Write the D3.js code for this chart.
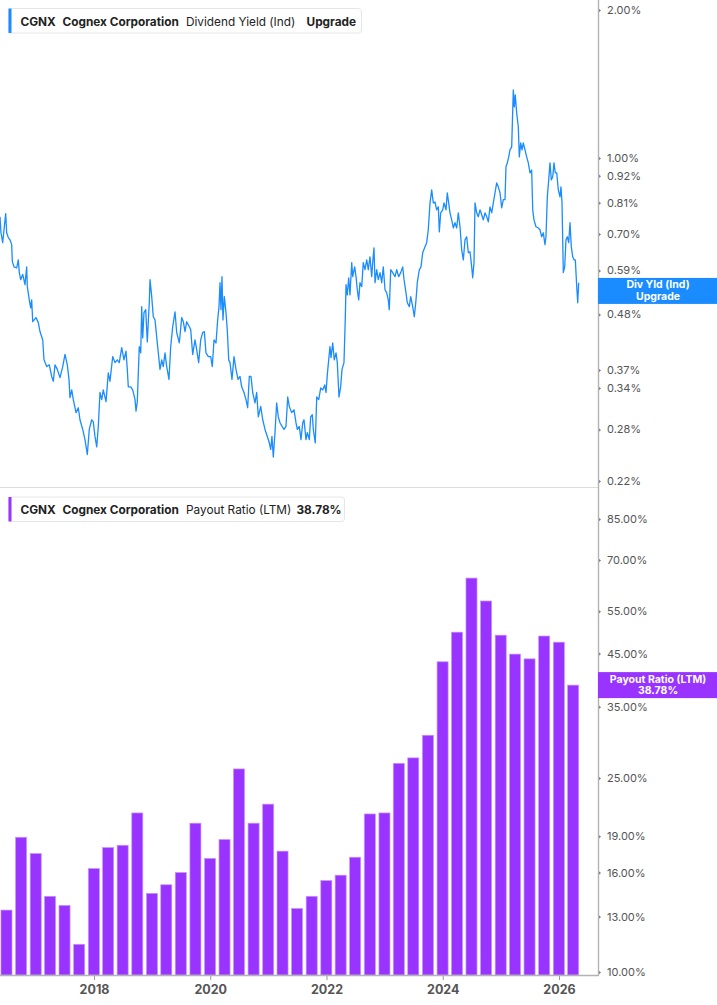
<!DOCTYPE html>
<html><head><meta charset="utf-8">
<script src="https://cdn.jsdelivr.net/npm/d3@7"></script>
<style>
html,body{margin:0;padding:0;background:#fff;}
svg{display:block;font-family:Inter,"Open Sans","Noto Sans",sans-serif;}
</style></head><body>
<svg id="chart" width="717" height="1005"></svg>
<script>
// ---------- DATA ----------
const ticker = "CGNX";
const company = "Cognex Corporation";
const dyName = "Dividend Yield (Ind)";
const prName = "Payout Ratio (LTM)";
// Dividend yield (%), [decimal year, value]
const divYieldPoints = [
[2016.383,0.759],[2016.400,0.704],[2016.429,0.672],[2016.452,0.714],[2016.481,0.770],[2016.498,0.704],[2016.526,0.688],[2016.555,0.681],[2016.584,0.666],[2016.595,0.615],
[2016.624,0.600],[2016.670,0.597],[2016.698,0.620],[2016.715,0.584],[2016.739,0.565],[2016.774,0.579],[2016.813,0.552],[2016.842,0.600],[2016.853,0.547],[2016.887,0.514],
[2016.911,0.495],[2016.928,0.514],[2016.946,0.464],[2017.002,0.473],[2017.042,0.462],[2017.071,0.443],[2017.118,0.426],[2017.140,0.388],[2017.186,0.376],[2017.231,0.379],
[2017.272,0.359],[2017.300,0.351],[2017.329,0.379],[2017.369,0.371],[2017.415,0.357],[2017.462,0.376],[2017.501,0.398],[2017.541,0.379],[2017.570,0.354],[2017.587,0.325],
[2017.617,0.337],[2017.644,0.322],[2017.691,0.303],[2017.730,0.310],[2017.759,0.293],[2017.806,0.280],[2017.845,0.267],[2017.885,0.249],[2017.919,0.280],[2017.961,0.293],
[2017.988,0.290],[2018.017,0.271],[2018.047,0.258],[2018.074,0.284],[2018.103,0.333],[2018.133,0.322],[2018.160,0.337],[2018.207,0.319],[2018.246,0.365],[2018.275,0.351],
[2018.322,0.394],[2018.361,0.383],[2018.401,0.388],[2018.435,0.383],[2018.477,0.411],[2018.516,0.388],[2018.551,0.404],[2018.573,0.371],[2018.590,0.342],[2018.632,0.342],
[2018.666,0.337],[2018.706,0.322],[2018.723,0.305],[2018.745,0.319],[2018.779,0.413],[2018.804,0.401],[2018.821,0.498],[2018.838,0.430],[2018.860,0.484],[2018.890,0.491],
[2018.917,0.422],[2018.952,0.510],[2018.964,0.565],[2018.993,0.522],[2019.020,0.475],[2019.050,0.468],[2019.089,0.420],[2019.136,0.371],[2019.165,0.388],[2019.192,0.376],
[2019.222,0.401],[2019.251,0.376],[2019.290,0.354],[2019.320,0.413],[2019.354,0.453],[2019.394,0.486],[2019.423,0.441],[2019.468,0.420],[2019.509,0.473],[2019.537,0.464],
[2019.566,0.443],[2019.595,0.464],[2019.640,0.453],[2019.664,0.447],[2019.698,0.398],[2019.738,0.426],[2019.767,0.407],[2019.801,0.383],[2019.836,0.426],[2019.870,0.441],
[2019.898,0.443],[2019.927,0.401],[2019.967,0.394],[2020.008,0.394],[2020.035,0.376],[2020.065,0.426],[2020.099,0.420],[2020.128,0.468],[2020.151,0.498],[2020.168,0.557],
[2020.185,0.491],[2020.202,0.573],[2020.219,0.468],[2020.242,0.522],[2020.271,0.484],[2020.293,0.447],[2020.318,0.388],[2020.340,0.383],[2020.374,0.354],[2020.409,0.394],
[2020.443,0.371],[2020.478,0.354],[2020.512,0.359],[2020.541,0.342],[2020.581,0.333],[2020.615,0.322],[2020.644,0.310],[2020.672,0.359],[2020.701,0.359],[2020.730,0.333],
[2020.770,0.317],[2020.799,0.333],[2020.827,0.297],[2020.868,0.312],[2020.903,0.293],[2020.942,0.280],[2020.982,0.271],[2021.016,0.263],[2021.040,0.255],[2021.062,0.271],
[2021.085,0.246],[2021.114,0.276],[2021.143,0.317],[2021.171,0.297],[2021.200,0.289],[2021.235,0.284],[2021.269,0.280],[2021.303,0.284],[2021.333,0.326],[2021.360,0.312],
[2021.401,0.303],[2021.441,0.307],[2021.475,0.289],[2021.498,0.280],[2021.532,0.284],[2021.561,0.267],[2021.591,0.289],[2021.613,0.293],[2021.647,0.267],[2021.670,0.276],
[2021.704,0.267],[2021.728,0.297],[2021.756,0.300],[2021.773,0.280],[2021.807,0.263],[2021.832,0.326],[2021.866,0.322],[2021.900,0.340],[2021.935,0.337],[2021.969,0.345],
[2021.992,0.333],[2022.014,0.362],[2022.038,0.388],[2022.060,0.413],[2022.078,0.392],[2022.107,0.420],[2022.134,0.388],[2022.164,0.401],[2022.186,0.383],[2022.215,0.326],
[2022.244,0.342],[2022.267,0.371],[2022.301,0.383],[2022.324,0.475],[2022.336,0.552],[2022.358,0.526],[2022.382,0.570],[2022.404,0.526],[2022.434,0.612],[2022.451,0.573],
[2022.485,0.600],[2022.508,0.573],[2022.530,0.539],[2022.554,0.514],[2022.576,0.557],[2022.606,0.547],[2022.633,0.612],[2022.662,0.592],[2022.692,0.620],[2022.719,0.592],
[2022.748,0.629],[2022.778,0.573],[2022.795,0.612],[2022.817,0.656],[2022.835,0.557],[2022.864,0.592],[2022.891,0.565],[2022.921,0.584],[2022.950,0.557],[2022.977,0.600],
[2023.007,0.539],[2023.036,0.531],[2023.063,0.514],[2023.080,0.491],[2023.105,0.592],[2023.139,0.584],[2023.179,0.573],[2023.208,0.592],[2023.242,0.573],[2023.277,0.584],
[2023.311,0.600],[2023.334,0.565],[2023.368,0.531],[2023.390,0.507],[2023.425,0.498],[2023.449,0.522],[2023.483,0.498],[2023.511,0.475],[2023.540,0.514],[2023.562,0.557],
[2023.597,0.592],[2023.626,0.600],[2023.655,0.641],[2023.695,0.659],[2023.724,0.672],[2023.751,0.714],[2023.781,0.810],[2023.810,0.861],[2023.838,0.810],[2023.867,0.813],
[2023.896,0.784],[2023.924,0.795],[2023.941,0.707],[2023.965,0.773],[2023.999,0.784],[2024.022,0.810],[2024.056,0.784],[2024.078,0.849],[2024.102,0.810],[2024.125,0.773],
[2024.154,0.748],[2024.182,0.720],[2024.211,0.738],[2024.240,0.720],[2024.268,0.773],[2024.297,0.724],[2024.326,0.650],[2024.354,0.620],[2024.383,0.681],[2024.412,0.691],
[2024.440,0.641],[2024.469,0.644],[2024.498,0.600],[2024.515,0.570],[2024.538,0.612],[2024.555,0.810],[2024.584,0.773],[2024.612,0.759],[2024.641,0.784],[2024.670,0.766],
[2024.698,0.748],[2024.727,0.773],[2024.756,0.759],[2024.784,0.741],[2024.813,0.795],[2024.842,0.773],[2024.870,0.810],[2024.899,0.849],[2024.928,0.889],[2024.956,0.873],
[2024.985,0.849],[2025.014,0.791],[2025.042,0.822],[2025.071,0.822],[2025.088,0.959],[2025.111,0.977],[2025.135,1.005],[2025.157,1.038],[2025.186,1.053],[2025.214,1.375],
[2025.231,1.270],[2025.248,1.343],[2025.272,1.235],[2025.300,1.156],[2025.317,1.005],[2025.341,1.073],[2025.364,1.038],[2025.386,1.073],[2025.415,1.038],[2025.444,1.005],
[2025.472,0.977],[2025.501,0.932],[2025.530,0.945],[2025.548,0.784],[2025.570,0.748],[2025.604,0.724],[2025.644,0.720],[2025.673,0.714],[2025.702,0.691],[2025.730,0.704],
[2025.759,0.666],[2025.776,0.691],[2025.799,0.833],[2025.823,0.902],[2025.845,0.977],[2025.868,0.902],[2025.892,0.915],[2025.914,0.977],[2025.936,0.932],[2025.961,0.932],
[2025.988,0.861],[2026.017,0.833],[2026.034,0.873],[2026.052,0.810],[2026.074,0.584],[2026.098,0.600],[2026.120,0.681],[2026.143,0.691],[2026.167,0.672],[2026.189,0.738],
[2026.212,0.659],[2026.236,0.629],[2026.258,0.620],[2026.281,0.620],[2026.305,0.547],[2026.322,0.507],[2026.339,0.557]
];
const dyCurrent = 0.536;
const dyLabel = ["Div Yld (Ind)", "Upgrade"];

// Payout ratio (LTM, %) by quarter end
const prQuarters = ["2016-06-30","2016-09-30","2016-12-31","2017-03-31","2017-06-30","2017-09-30","2017-12-31","2018-03-31","2018-06-30","2018-09-30",
"2018-12-31","2019-03-31","2019-06-30","2019-09-30","2019-12-31","2020-03-31","2020-06-30","2020-09-30","2020-12-31","2021-03-31",
"2021-06-30","2021-09-30","2021-12-31","2022-03-31","2022-06-30","2022-09-30","2022-12-31","2023-03-31","2023-06-30","2023-09-30",
"2023-12-31","2024-03-31","2024-06-30","2024-09-30","2024-12-31","2025-03-31","2025-06-30","2025-09-30","2025-12-31","2026-03-31"];
const prValues = [13.4,18.9,17.5,14.3,13.7,11.4,16.3,18.0,18.2,21.2,
14.5,15.1,16.0,20.2,17.1,18.7,26.1,20.2,22.1,17.7,
13.5,14.3,15.4,15.8,17.2,21.1,21.2,26.8,27.5,30.6,
43.3,49.8,64.3,57.7,49.1,44.9,43.9,48.9,47.5,38.78];
const prCurrent = 38.78;

const dyTicks = [0.22,0.28,0.34,0.37,0.48,0.59,0.70,0.81,0.92,1.00,2.00];
const prTicks = [10,13,16,19,25,35,45,55,70,85];
const yearTicks = [2018,2020,2022,2024,2026];

// ---------- STYLE / LAYOUT ----------
const blue = "#1a8cff", purple = "#9933ff";
const plotR = 598, topB = 487, botT = 488, botB = 975;
const svg = d3.select("#chart");

function decYear(s){
  const d = new Date(s + "T00:00:00Z");
  const y = d.getUTCFullYear();
  const a = Date.UTC(y,0,1), b = Date.UTC(y+1,0,1);
  return y + (d - a)/(b - a);
}

const x = d3.scaleLinear().domain([2016.383, 2026.671]).range([0, plotR]);
const yTop = d3.scaleLog().domain([0.2138, 2.096]).range([topB, 0]);
const yBot = d3.scaleLog().domain([9.86, 98.4]).range([botB, botT]);

const defs = svg.append("defs");
defs.append("clipPath").attr("id","cTop").append("rect").attr("x",0).attr("y",0).attr("width",plotR).attr("height",topB);
defs.append("clipPath").attr("id","cBot").append("rect").attr("x",0).attr("y",botT).attr("width",plotR).attr("height",botB-botT);

// separator
svg.append("line").attr("x1",0).attr("x2",plotR).attr("y1",topB+0.5).attr("y2",topB+0.5)
  .attr("stroke","#dcdcdc").attr("stroke-width",1);

// bars
const step = x(2016.75) - x(2016.5);
const bw = step * 0.76;
svg.append("g").attr("clip-path","url(#cBot)")
  .selectAll("rect").data(prValues).join("rect")
  .attr("x",(d,i)=>x(decYear(prQuarters[i])) - bw/2)
  .attr("y",d=>yBot(d))
  .attr("width",bw)
  .attr("height",d=>botB - yBot(d))
  .attr("fill",purple)
  .attr("stroke","#c596ff").attr("stroke-width",0.7);

// line
const line = d3.line().x(d=>x(d[0])).y(d=>yTop(d[1]));
svg.append("g").attr("clip-path","url(#cTop)")
  .append("path").datum(divYieldPoints)
  .attr("d",line).attr("fill","none").attr("stroke",blue)
  .attr("stroke-width",1.3).attr("stroke-linejoin","round");

// right axes
function styleRight(g){
  g.select(".domain").remove();
  g.selectAll(".tick line").remove();
  g.selectAll(".tick").append("path").attr("d","M0,-2.5L3,0L0,2.5Z").attr("fill","#777");
  g.selectAll(".tick text").attr("fill","#555").style("font-size","11px")
    .style("font-family","Inter, 'Open Sans', sans-serif").attr("x",9);
}
svg.append("g").attr("transform",`translate(${plotR},0)`)
  .call(d3.axisRight(yTop).tickValues(dyTicks).tickFormat(d=>d.toFixed(2)+"%").tickSize(0))
  .call(styleRight);
svg.append("g").attr("transform",`translate(${plotR},0)`)
  .call(d3.axisRight(yBot).tickValues(prTicks).tickFormat(d=>d.toFixed(2)+"%").tickSize(0))
  .call(styleRight);

// axis lines
svg.append("line").attr("x1",plotR+0.5).attr("x2",plotR+0.5).attr("y1",0).attr("y2",botB+0.5)
  .attr("stroke","#b3b3b3").attr("stroke-width",1.4);

// x axis
const xg = svg.append("g").attr("transform",`translate(0,${botB})`)
  .call(d3.axisBottom(x).tickValues(yearTicks).tickFormat(d3.format("d")).tickSize(5).tickPadding(5));
xg.select(".domain").remove();
xg.selectAll(".tick line").attr("stroke","#999");
xg.selectAll(".tick text").attr("fill","#555").style("font-size","12.5px").style("font-weight","700")
  .style("font-family","Inter, 'Open Sans', sans-serif");
svg.append("line").attr("x1",0).attr("x2",plotR+1).attr("y1",botB+0.5).attr("y2",botB+0.5)
  .attr("stroke","#b3b3b3").attr("stroke-width",1.4);

// legends
function legend(y0, w, color, parts){
  const g = svg.append("g");
  g.append("rect").attr("x",8.5).attr("y",y0+0.5).attr("width",w).attr("height",24.5).attr("rx",3)
    .attr("fill","#fff").attr("stroke","#e6e6e6");
  g.append("rect").attr("x",8.5).attr("y",y0+0.5).attr("width",3).attr("height",24.5).attr("fill",color);
  parts.forEach(p=>{
    g.append("text").attr("x",p[0]).attr("y",y0+17.5).text(p[1])
      .attr("fill","#222").style("font-size","11.8px").style("font-weight",p[2]);
  });
}
legend(8, 353, blue, [[20.5,ticker,700],[62.5,company,700],[186,dyName,400],[306.5,"Upgrade",700]]);
legend(496.5, 336, purple, [[20.5,ticker,700],[62.5,company,700],[186,prName,400],[296.5,prCurrent.toFixed(2)+"%",700]]);

// value labels on axis
function valLabel(cy, color, lines){
  const g = svg.append("g");
  g.append("rect").attr("x",plotR).attr("y",cy-13).attr("width",717-plotR).attr("height",26).attr("fill",color);
  g.append("text").attr("x",658).attr("y",cy-2.5).attr("text-anchor","middle").text(lines[0])
    .attr("fill","#fff").style("font-size","10.5px").style("font-weight","700");
  g.append("text").attr("x",658).attr("y",cy+9).attr("text-anchor","middle").text(lines[1])
    .attr("fill","#fff").style("font-size","10.5px").style("font-weight","700");
}
valLabel(yTop(dyCurrent), blue, dyLabel);
valLabel(yBot(prCurrent), purple, [prName, prCurrent.toFixed(2)+"%"]);
</script>
</body></html>
